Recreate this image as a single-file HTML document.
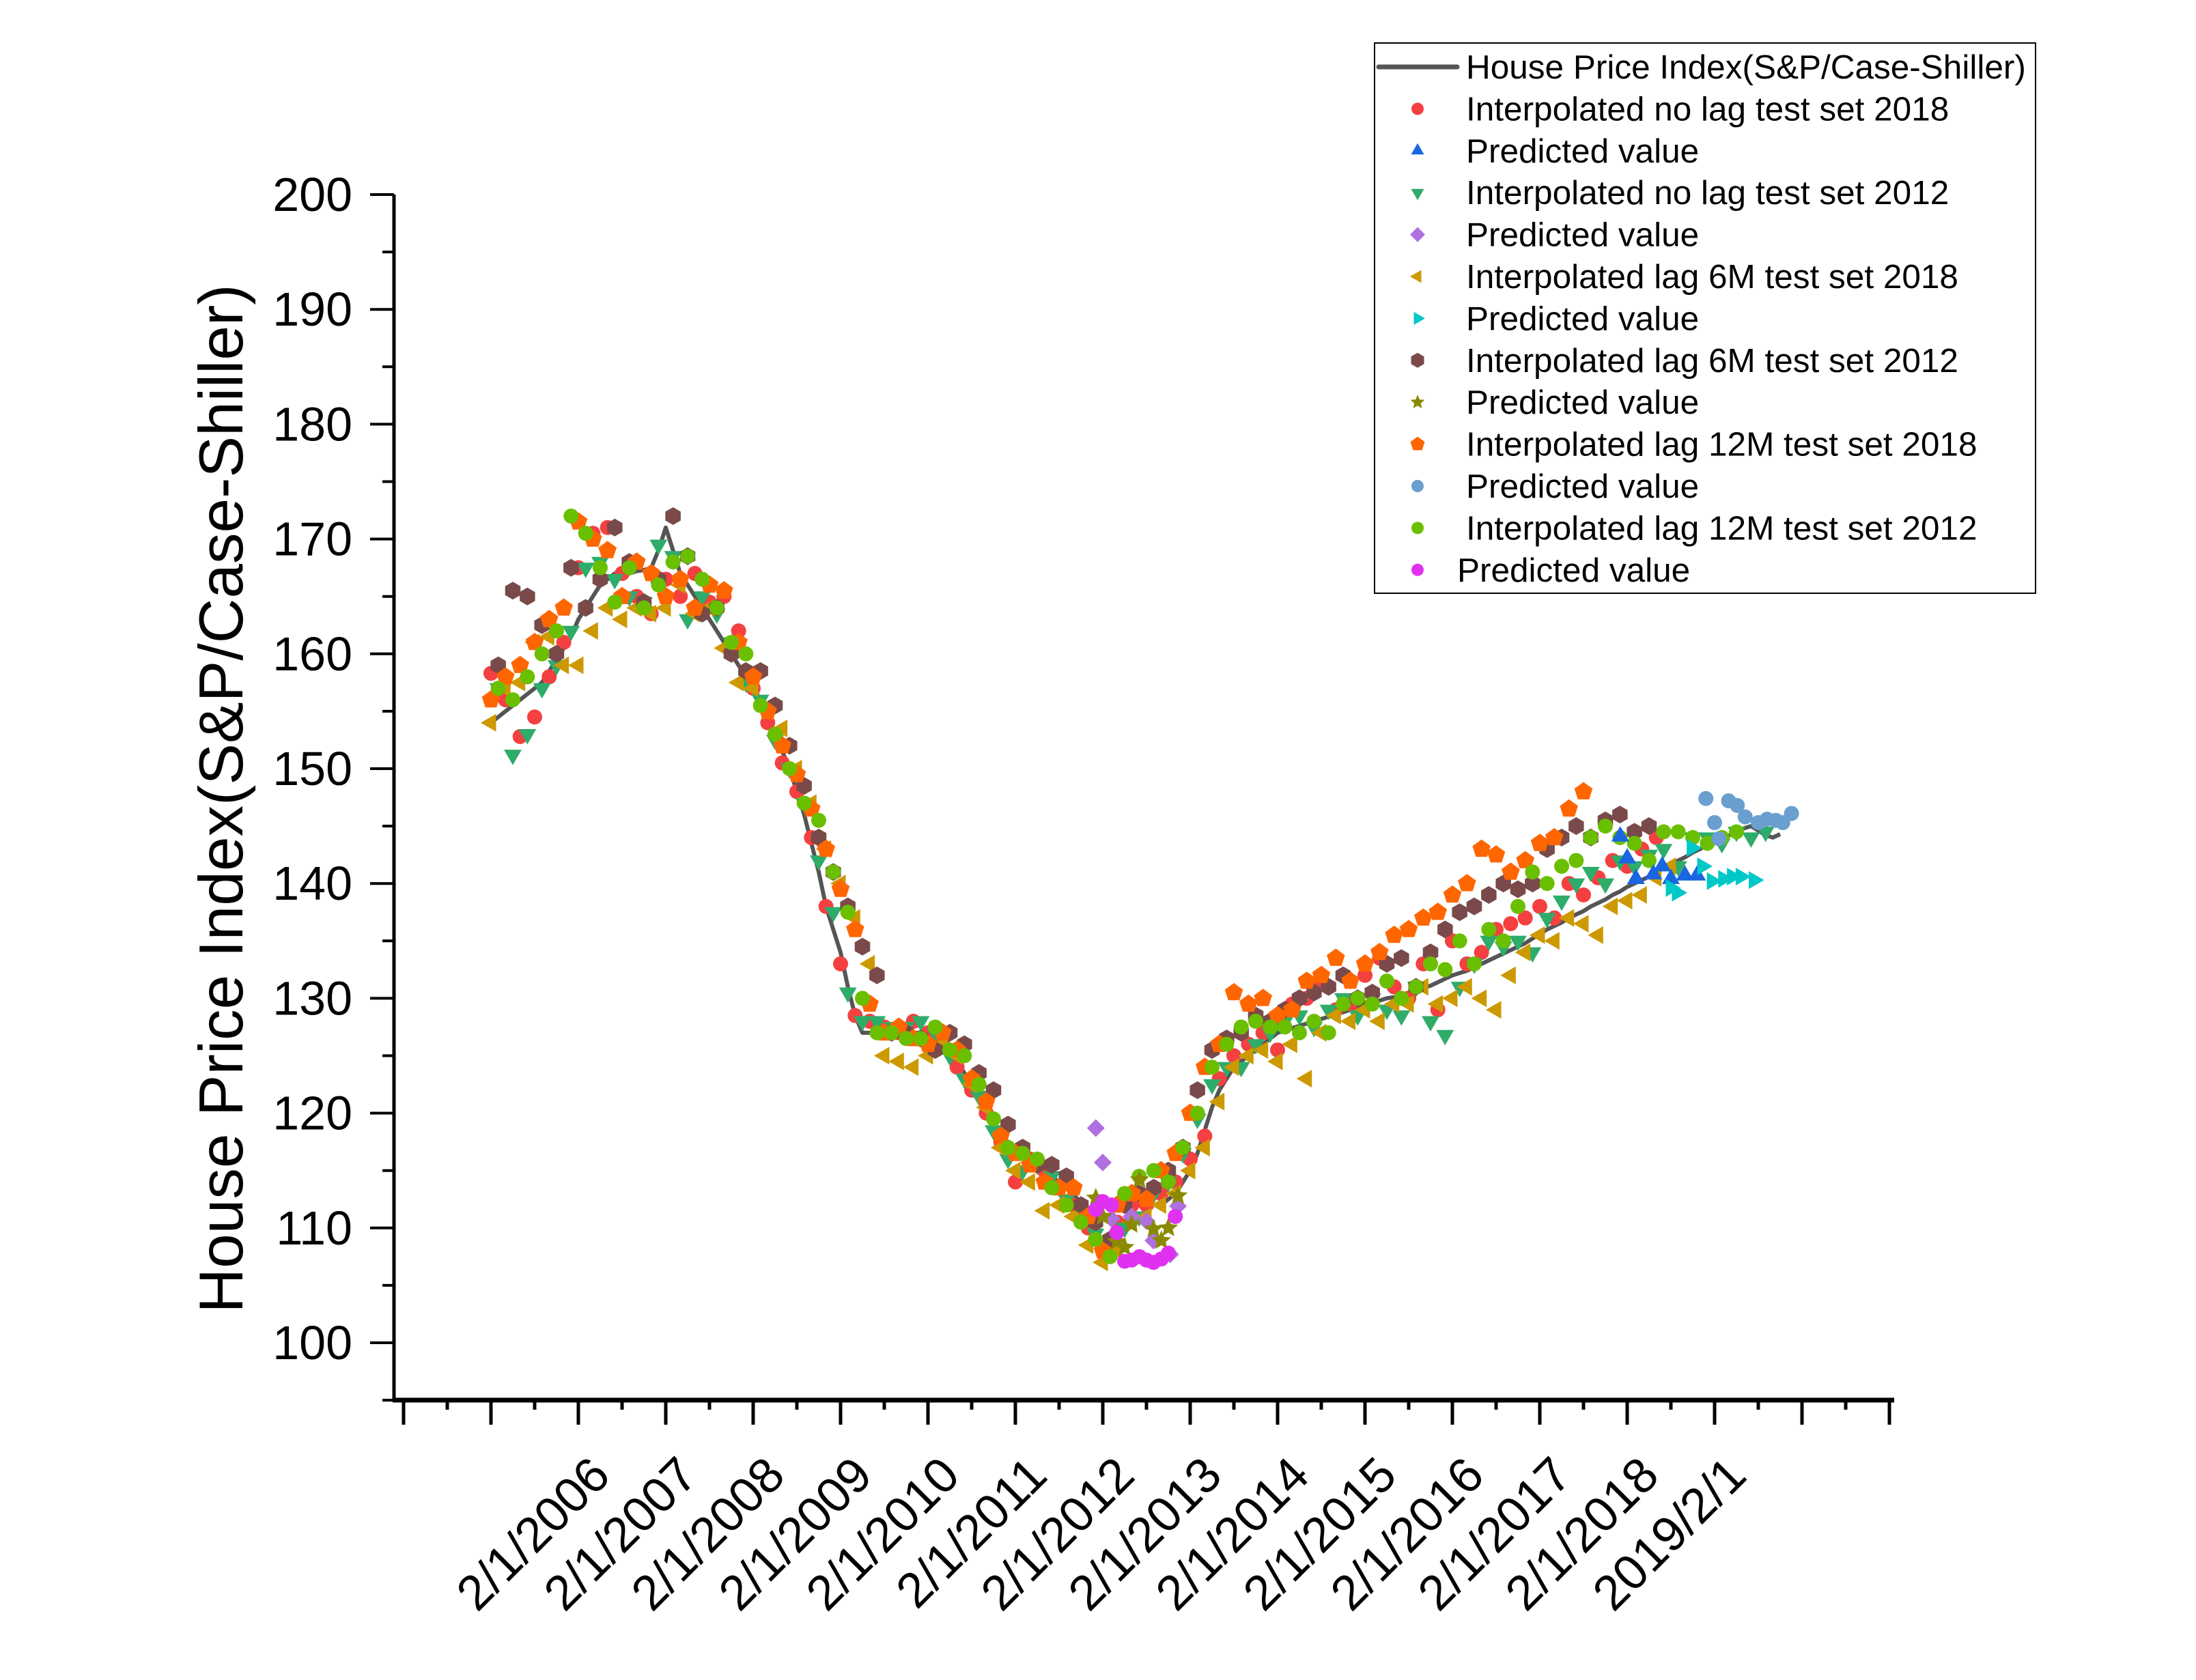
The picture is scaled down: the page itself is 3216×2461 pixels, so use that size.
<!DOCTYPE html>
<html><head><meta charset="utf-8"><style>
html,body{margin:0;padding:0;background:#fff}
svg{display:block}
text{font-family:"Liberation Sans",Arial,sans-serif;fill:#000}
</style></head><body>
<svg id="chart" width="3216" height="2461" viewBox="0 0 3216 2461" xmlns="http://www.w3.org/2000/svg">
<rect x="0" y="0" width="3216" height="2461" fill="#fff"/>
<g id="plot"></g>
<g id="axes"></g>
<text transform="translate(355,1170) rotate(-90)" text-anchor="middle" font-size="91">House Price Index(S&amp;P/Case-Shiller)</text>
<g id="legend"></g>
</svg>
<script>
const yTicks=[100,110,120,130,140,150,160,170,180,190,200];
const xTickLabels=["2/1/2006","2/1/2007","2/1/2008","2/1/2009","2/1/2010","2/1/2011","2/1/2012","2/1/2013","2/1/2014","2/1/2015","2/1/2016","2/1/2017","2/1/2018","2019/2/1"];
const xTickYears=[2006,2007,2008,2009,2010,2011,2012,2013,2014,2015,2016,2017,2018,2019];
// HPI monthly from Jan 2005
const hpi=[154,154.5,155,155.5,156,156.5,157,157.5,158.5,159.5,160.5,161.5,
163,164,165,166,166.5,167,167,167,167.2,167.3,167.5,169,
171,169,167,166,165,164,163,162,161,160,159,158,
157,156,154.5,153,151.5,150,148,146,143.5,141,138,136,
134,131,128.5,127,127,127,127,127,127,127,127,127,
127,126.5,126,125,124.5,123.5,122.5,121.5,120.5,119,118,117.5,
117,116.5,116,115.5,115,114.5,114,113.5,113,112,111,110,
108,107.5,109,110.5,111.5,112,112,112,112,112.5,113,114,
115,116.5,118.5,120.5,122,123,124,124.5,125,125.5,126,126.5,
127,127.2,127.4,127.6,127.8,128,128.2,128.4,128.6,128.8,129,129.2,
129.5,129.6,129.8,130,130.1,130.3,130.5,130.7,130.9,131.1,131.4,131.7,
132,132.2,132.4,132.7,133,133.3,133.6,133.9,134.2,134.5,134.8,135.2,
135.6,136,136.3,136.6,137,137.3,137.6,138,138.3,138.6,139,139.3,
139.7,140,140.3,140.6,141,141.3,141.7,142,142.3,142.7,143,143.4,
143.8,144,144.2,144.5,144.8,145,144.6,144.2,144,144.3];
// scatter series: values every 2 months from start month
const redStart=0;
const redVals=[158.3,156,152.8,154.5,158,161,167.5,170.5,171,167,165,163.5,166.5,165,167,164.5,165,162,157,154,150.5,148,144,138,133,128.5,128,127.5,127,128,127,126,124,122,120,117.5,114,116,115,113.5,112,110,108,110.5,112,112,113,114,116,118,123,125,126,127,125.5,129.5,130,131.5,129,129.5,132,133.5,131,130,133,129,135,133,134,136,136.5,137,138,137,140,139,140.5,142,141.5,143,144];
const greenTriStart=1;
const greenTriVals=[157,151.2,153,157,159,162,167.5,168,166.5,165,164.5,169.5,168.5,163,165,163.5,161,157.5,156,152.5,150,147,142,137.5,130.5,128,128,127.5,127.5,128,127,125,123,121.5,118.5,116,115,115.5,114.5,112.5,111.5,109.5,108.5,110,111,113,114,116.5,119.5,122.5,124,124,126,127,128,128.5,127.5,129,130,128.5,130,129,128.5,131,128,126.8,131,133,135,134.5,135,134,137,138.5,140,141,140,142,141.5,142.5,143,141.5,144,144,143.5,144.5,144,144.5];
const yellowStart=0;
const yellowVals=[154,157,157.5,161,161.5,159,159,162,164,163,164,163.5,164,166,163.5,164,160.5,157.5,157,155,153.5,150,147,143,140,137,133,125,124.5,124,125,126,125,122.5,120.5,117,115,114,111.5,112,111,108.5,107,108,110.5,111,112,113,115,117,121,124,125,125.5,124.5,126,123,127,128.5,128,129,128,129.5,129.5,131,129.5,130,131,130,129,132,134,135.5,135,137,136.5,135.5,138,138.5,139,140.5,141.5];
const brownStart=1;
const brownVals=[159,165.5,165,162.5,160,167.5,164,166.5,171,168,164.5,166.5,172,168.5,163.5,164,160,158.5,158.5,155.5,152,148.5,144,141,138,134.5,132,127,127,126.5,125.5,127,126,123.5,122,119,117,115.5,115.5,114.5,112,110.5,109,112,113,113.5,115,117,122,125.5,126.5,127,128.5,128,129,130,130.5,131,132,130,130.5,133,133.5,131,134,136,137.5,138,139,140,139.5,140,143,144,145,144,145.5,146,144.5,145];
const orangeStart=0;
const orangeVals=[156,158,159,161,163,164,171.5,170,169,165,168,167,165,166.5,164,166,165.5,161,158,155,152,149.5,146.5,143,139.5,136,129.5,127,127.5,126.5,126,127,125.5,123,121,118,116.5,115.5,114,113.5,113.5,111,108,112,113,112.5,115,116.5,120,124,126,130.5,129.5,130,128.5,129,131.5,132,133.5,131.5,133,134,135.5,136,137,137.5,139,140,143,142.5,141,142,143.5,144,146.5,148];
const limeStart=1;
const limeVals=[157,156,158,160,162,172,170.5,167.5,164.5,167.5,164,166,168,168.5,166.5,164,161,160,155.5,153,150,147,145.5,141,137.5,130,127,127,126.5,126.5,127.5,125.5,125,122.5,119.5,117,116.5,116,113.5,112,110.5,109,107.5,113,114.5,115,114,117,120,124,126,127.5,128,127.5,127.5,127,128,127,129.5,130,129.5,131.5,130,131,133,132.5,135,133,136,135,138,141,140,141.5,142,144,145,144,143.5,142,144.5,144.5,144,143.5,144,144.5];
// predicted series (decimal years, values)
const diamondT=[2011.92,2012.0,2012.1,2012.33,2012.5,2012.58,2012.77,2012.86];
const diamondV=[118.7,115.7,110.8,111,110.6,108.9,107.7,111.9];
const magentaT=[2011.92,2012.0,2012.1,2012.16,2012.25,2012.33,2012.42,2012.5,2012.58,2012.67,2012.75,2012.83];
const magentaV=[111.6,112.3,112,109.6,107.1,107.2,107.5,107.2,107,107.3,107.8,111];
const starT=[2011.92,2012.0,2012.16,2012.25,2012.33,2012.42,2012.58,2012.67,2012.75,2012.86];
const starV=[112.6,111,108.8,108.3,110.3,114.2,109.9,108.9,110,112.8];
const blueT=[2017.92,2018.0,2018.1,2018.3,2018.4,2018.5,2018.66,2018.8];
const blueV=[144.1,142.2,140.4,140.8,141.5,140.4,140.7,140.7];
const cyanT=[2018.5,2018.57,2018.74,2018.86,2018.97,2019.1,2019.2,2019.3,2019.45];
const cyanV=[139.6,139.2,143.1,141.5,140.2,140.4,140.6,140.6,140.3];
const ltblueT=[2018.9,2019.0,2019.05,2019.16,2019.26,2019.35,2019.5,2019.6,2019.7,2019.78,2019.88];
const ltblueV=[147.4,145.3,143.9,147.2,146.8,145.8,145.3,145.6,145.5,145.3,146.1];

const NS="http://www.w3.org/2000/svg";
const X0=591, XPY=128, Y100=1967, PPU=16.82;
const AX_L=577, AX_R=2774, AX_B=2051, AX_T=285;
function xs(t){return X0+(t-2004)*XPY;}
function ys(v){return Y100-(v-100)*PPU;}
function mk(tag,attrs,parent){const e=document.createElementNS(NS,tag);for(const k in attrs)e.setAttribute(k,attrs[k]);parent.appendChild(e);return e;}
const plot=document.getElementById('plot'), axes=document.getElementById('axes'), legend=document.getElementById('legend');

function shape(kind,cx,cy,r,color,parent){
  let e;
  if(kind==='circle'){e=mk('circle',{cx:cx,cy:cy,r:r,fill:color},parent);}
  else{
    let pts=[];
    const poly=(n,rot)=>{for(let i=0;i<n;i++){const a=rot+i*2*Math.PI/n;pts.push((cx+r*Math.cos(a)).toFixed(1)+','+(cy+r*Math.sin(a)).toFixed(1));}};
    if(kind==='up')poly(3,-Math.PI/2);
    else if(kind==='down')poly(3,Math.PI/2);
    else if(kind==='left')poly(3,Math.PI);
    else if(kind==='right')poly(3,0);
    else if(kind==='diamond')poly(4,-Math.PI/2);
    else if(kind==='hex')poly(6,-Math.PI/2);
    else if(kind==='pent')poly(5,-Math.PI/2);
    else if(kind==='star'){for(let i=0;i<10;i++){const a=-Math.PI/2+i*Math.PI/5;const rr=i%2?r*0.45:r;pts.push((cx+rr*Math.cos(a)).toFixed(1)+','+(cy+rr*Math.sin(a)).toFixed(1));}}
    e=mk('polygon',{points:pts.join(' '),fill:color},parent);
  }
  return e;
}

// HPI line
let d='';
hpi.forEach((v,i)=>{d+=(i?'L':'M')+xs(2005+i/12).toFixed(1)+','+ys(v).toFixed(1);});
const line=mk('path',{d:d,fill:'none',stroke:'#555','stroke-width':6,'stroke-linejoin':'round'},plot);



function monthSeries(name,start,vals,kind,color,r){
  const g=mk('g',{},plot);
  
  
  vals.forEach((v,i)=>{const p=shape(kind,xs(2005+(start+2*i)/12),ys(v),r,color,g);
    
    });
}
function timeSeries(name,T,V,kind,color,r){
  const g=mk('g',{},plot);
  
  
  V.forEach((v,i)=>{const p=shape(kind,xs(T[i]),ys(v),r,color,g);
    
    });
}
monthSeries('no-lag-2018-series',redStart,redVals,'circle','#f44040',11);
monthSeries('no-lag-2012-series',greenTriStart,greenTriVals,'down','#2eac6a',15);
monthSeries('lag6m-2018-series',yellowStart,yellowVals,'left','#cc9900',15);
monthSeries('lag6m-2012-series',brownStart,brownVals,'hex','#7a4a4a',13);
monthSeries('lag12m-2018-series',orangeStart,orangeVals,'pent','#ff6600',14);
monthSeries('lag12m-2012-series',limeStart,limeVals,'circle','#6abf00',11);
timeSeries('predicted-no-lag-2012',diamondT,diamondV,'diamond','#b070e0',13);
timeSeries('predicted-lag6m-2012',starT,starV,'star','#8a8a00',15);
timeSeries('predicted-lag12m-2012',magentaT,magentaV,'circle','#e030f0',11);
timeSeries('predicted-no-lag-2018',blueT,blueV,'up','#1a66e0',15);
timeSeries('predicted-lag6m-2018',cyanT,cyanV,'right','#00c8c8',15);
timeSeries('predicted-lag12m-2018',ltblueT,ltblueV,'circle','#6a9fd0',11);

// axes
const ya=mk('line',{x1:AX_L,y1:AX_T,x2:AX_L,y2:AX_B,stroke:'#000','stroke-width':5},axes);


const xa=mk('line',{x1:AX_L-2,y1:AX_B,x2:AX_R,y2:AX_B,stroke:'#000','stroke-width':7},axes);


for(let v=95;v<=200;v+=5){
  const major=(v%10===0);
  const t=mk('line',{x1:AX_L-(major?35:17),y1:ys(v),x2:AX_L,y2:ys(v),stroke:'#000','stroke-width':4},axes);
  
  
}
yTicks.forEach(v=>{
  const t=mk('text',{x:516,y:ys(v)+24,'text-anchor':'end','font-size':70},axes);
  t.textContent=String(v);
  
  
});
for(let k=0;k<=34;k++){
  const yr=2004+k/2, major=(k%2===0);
  const t=mk('line',{x1:xs(yr),y1:AX_B,x2:xs(yr),y2:AX_B+(major?36:14),stroke:'#000','stroke-width':5},axes);
  
  
}
xTickLabels.forEach((s,i)=>{
  const x=xs(xTickYears[i])+50, y=2165;
  const t=mk('text',{x:x,y:y,'text-anchor':'end','font-size':72,transform:`rotate(-45 ${x} ${y})`},axes);
  t.textContent=s;
  
  
});

// legend
const box=mk('rect',{x:2013,y:63,width:968,height:806,fill:'#fff',stroke:'#000','stroke-width':2},legend);


const legItems=[
 ['House Price Index(S&P/Case-Shiller)','line','#555'],
 ['Interpolated no lag test set 2018','circle','#f44040'],
 ['Predicted value','up','#1a66e0'],
 ['Interpolated no lag test set 2012','down','#2eac6a'],
 ['Predicted value','diamond','#b070e0'],
 ['Interpolated lag 6M test set 2018','left','#cc9900'],
 ['Predicted value','right','#00c8c8'],
 ['Interpolated lag 6M test set 2012','hex','#7a4a4a'],
 ['Predicted value','star','#8a8a00'],
 ['Interpolated lag 12M test set 2018','pent','#ff6600'],
 ['Predicted value','circle','#6a9fd0'],
 ['Interpolated lag 12M test set 2012','circle','#6abf00'],
 ['Predicted value','circle','#e030f0']
];
legItems.forEach((it,i)=>{
  const cy=98+i*61.4;
  const g=mk('g',{},legend);
  
  
  if(it[1]==='line'){mk('line',{x1:2019,y1:cy,x2:2134,y2:cy,stroke:it[2],'stroke-width':7,'stroke-linecap':'round'},g);}
  else{shape(it[1],2076,cy,it[1]==='circle'?9:11,it[2],g);}
  const tx=mk('text',{x:(i===12?2134:2147),y:cy+17,'font-size':49.5},g);
  tx.textContent=it[0];
});
</script>
</body></html>
